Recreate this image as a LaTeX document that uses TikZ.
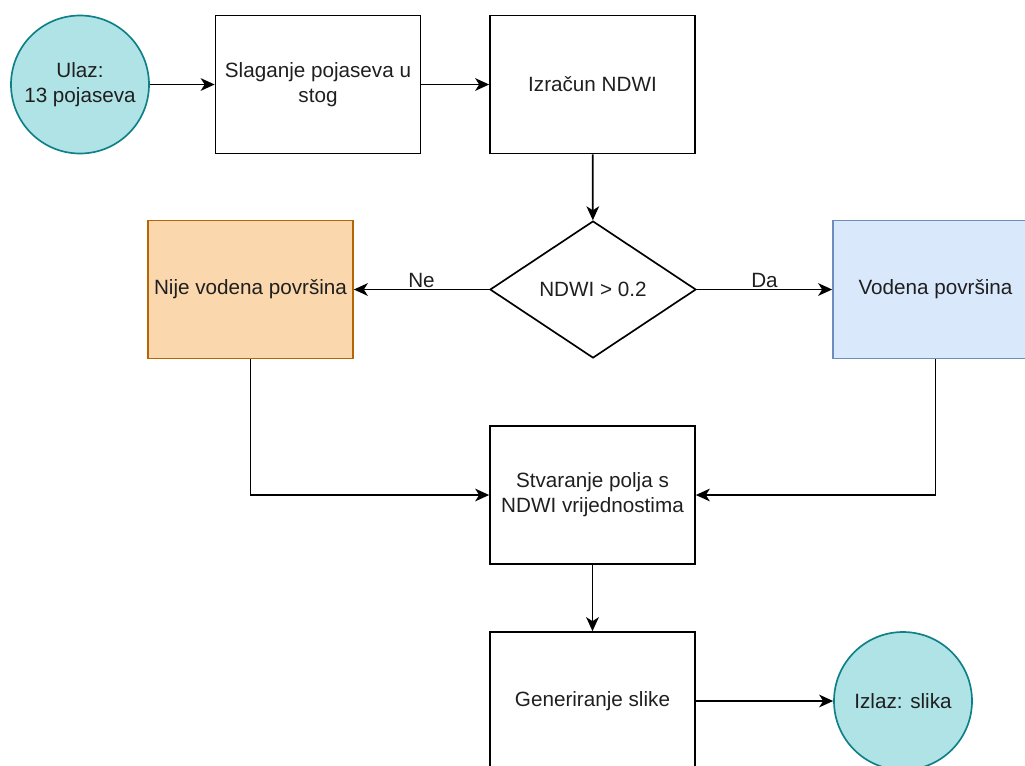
\documentclass[tikz,border=0pt]{standalone}
\usepackage{fontspec}
\setmainfont{Liberation Sans}
\usetikzlibrary{shapes.geometric,arrows.meta}
\definecolor{termfill}{HTML}{B0E3E6}
\definecolor{termdraw}{HTML}{0E8088}
\definecolor{nofill}{HTML}{FAD7AC}
\definecolor{nodraw}{HTML}{B46504}
\definecolor{yesfill}{HTML}{DAE8FC}
\definecolor{yesdraw}{HTML}{6C8EBF}

\begin{document}
\begin{tikzpicture}[x=0.75pt,y=0.75pt,yscale=-1,xscale=1,
    every node/.style={font=\fontsize{15.5}{18.75}\selectfont, text=black!88},
    proc/.style={draw, line width=1.25pt, minimum width=153.75pt, minimum height=103.5pt, inner sep=2pt, align=center},
    term/.style={circle, draw=termdraw, fill=termfill, line width=1.25pt, minimum size=103.5pt, inner sep=0pt, align=center},
    decision/.style={diamond, draw, line width=1.25pt, minimum width=154.5pt, minimum height=102.75pt, inner sep=0pt, aspect=1.5},
    flow/.style={line width=1.3pt, -{Stealth[length=10.5pt,width=9.5pt,inset=3pt]}},
    edgelabel/.style={midway, above, inner sep=1pt}]
        \useasboundingbox (0,0) rectangle (1025,765);
        \clip (0,0) rectangle (1025,765);
        
        %Shape: Circle [id:ulaz]
        \node [term] (ulaz) at (80,84.5) {Ulaz:\\13 pojaseva};
        %Shape: Rectangle [id:stog]
        \node [proc] (stog) at (318,84.5) {Slaganje pojaseva u\\stog};
        %Shape: Rectangle [id:ndwi]
        \node [proc] (ndwi) at (592.5,84.5) {Izračun NDWI};
        %Shape: Diamond [id:uvjet]
        \node [decision] (uvjet) at (593,289.5) {NDWI > 0.2};
        %Shape: Rectangle [id:nijevoda]
        \node [proc, draw=nodraw, fill=nofill] (nijevoda) at (250.5,289.5) {Nije vodena površina};
        %Shape: Rectangle [id:voda]
        \node [proc, draw=yesdraw, fill=yesfill] (voda) at (935.5,289.5) {Vodena površina};
        %Shape: Rectangle [id:polje]
        \node [proc] (polje) at (592.5,495) {Stvaranje polja s\\NDWI vrijednostima};
        %Shape: Rectangle [id:slika]
        \node [proc] (slika) at (592.5,701) {Generiranje slike};
        %Shape: Circle [id:izlaz]
        \node [term] (izlaz) at (903,701) {Izlaz: slika};
        
        %Straight Lines
        \draw [flow] (ulaz) -- (stog);
        \draw [flow] (stog) -- (ndwi);
        \draw [flow] (ndwi) -- (uvjet);
        \draw [flow] (uvjet) -- node [edgelabel] {Ne} (nijevoda);
        \draw [flow] (uvjet) -- node [edgelabel] {Da} (voda);
        %Elbow Lines
        \draw [flow] (nijevoda.south) |- (polje.west);
        \draw [flow] (voda.south) |- (polje.east);
        \draw [flow] (polje) -- (slika);
        \draw [flow] (slika) -- (izlaz);
        
\end{tikzpicture}
\end{document}
